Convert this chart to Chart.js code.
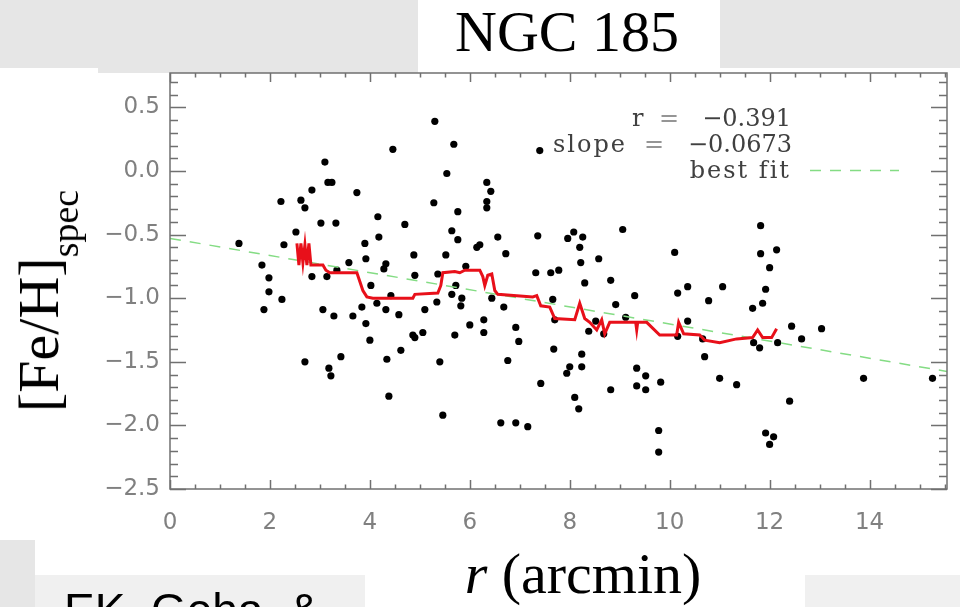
<!DOCTYPE html>
<html>
<head>
<meta charset="utf-8">
<script src="https://cdn.jsdelivr.net/npm/chart.js@4.4.1/dist/chart.umd.min.js"></script>
<style>
  html, body { margin:0; padding:0; background:#ffffff; }
  #wrap { position:relative; width:960px; height:607px; overflow:hidden; background:#ffffff; }
  .blk { position:absolute; }
  #c { position:absolute; left:0; top:0; }
  .txt { position:absolute; white-space:nowrap; line-height:1; }
</style>
</head>
<body>
<div id="wrap">
  <div class="blk" style="left:0;top:0;width:98px;height:68px;background:#e6e6e6"></div>
  <div class="blk" style="left:98px;top:0;width:320px;height:73px;background:#e6e6e6"></div>
  <div class="blk" style="left:720px;top:0;width:240px;height:68px;background:#e6e6e6"></div>
  <div class="blk" style="left:0;top:540px;width:35px;height:67px;background:#e6e6e6"></div>
  <div class="blk" style="left:35px;top:575px;width:330px;height:32px;background:#f0f0f0"></div>
  <div class="blk" style="left:805px;top:575px;width:155px;height:32px;background:#f0f0f0"></div>
  <canvas id="c" width="960" height="607"></canvas>
  <div class="txt" style="left:567px;top:3px;transform:translateX(-50%);font:58px 'Liberation Serif',serif;line-height:58px;color:#000">NGC 185</div>
  <div class="txt" style="left:583px;top:545px;transform:translateX(-50%);font:58px 'Liberation Serif',serif;line-height:58px;color:#000"><i>r</i> (arcmin)</div>
  <div class="txt" style="left:42px;top:301px;transform:translate(-50%,-50%) rotate(-90deg);font:58px 'Liberation Serif',serif;line-height:58px;color:#000">[Fe/H]<span style="font-size:38px;position:relative;top:20px">spec</span></div>
  <div class="txt" style="left:64px;top:587px;font:46px 'Liberation Sans',Arial,sans-serif;line-height:46px;color:#000">EK, Geha, &amp;</div>
</div>
<script>
// ---- data ----
const starR = [1.38,1.84,1.88,1.98,1.98,2.22,2.24,2.28,2.52,2.62,2.70,2.70,2.84,2.84,3.02,3.06,3.10,3.14,3.16,3.24,3.18,3.22,3.28,3.32,3.34,3.42,3.58,3.66,3.74,3.84,3.90,3.92,3.92,4.00,4.02,4.14,4.16,4.18,4.28,4.32,4.32,4.34,4.38,4.42,4.46,4.58,4.62,4.70,4.86,4.90,4.88,4.90,5.06,5.10,5.28,5.30,5.34,5.36,5.40,5.46,5.52,5.54,5.64,5.64,5.68,5.70,5.72,5.76,5.76,5.82,5.84,5.92,6.00,6.14,6.20,6.28,6.28,6.34,6.42,6.34,6.34,6.44,6.56,6.62,6.68,6.72,6.76,6.92,6.92,6.98,7.16,7.32,7.36,7.40,7.42,7.62,7.66,7.68,7.70,7.78,7.94,8.00,7.96,8.08,8.26,8.20,8.22,8.24,8.24,8.30,8.10,8.18,8.38,8.52,8.58,8.68,8.82,8.82,8.92,9.06,9.12,9.30,9.34,9.34,9.52,9.52,9.78,9.78,9.82,10.10,10.16,10.16,10.36,10.36,10.66,10.70,10.78,11.00,11.06,11.34,11.66,11.68,11.80,11.82,11.82,11.86,11.92,11.92,12.00,12.00,12.08,12.14,12.16,12.40,12.44,12.64,13.04,13.88,15.26];
const starFeH = [-0.57,-0.74,-1.09,-0.84,-0.95,-0.24,-1.01,-0.58,-0.48,-0.23,-0.29,-1.50,-0.15,-0.83,-0.41,-1.09,0.07,-0.83,-0.09,-0.09,-1.55,-1.61,-1.14,-0.41,-0.78,-1.46,-0.72,-1.14,-0.17,-1.07,-0.57,-0.69,-1.20,-1.33,-0.90,-1.04,-0.36,-0.52,-0.77,-0.73,-1.09,-1.48,-1.77,-0.98,0.17,-1.13,-1.41,-0.42,-1.29,-1.31,-0.66,-0.82,-1.27,-1.09,-0.25,0.39,-1.03,-0.81,-1.50,-1.92,-0.66,-0.02,-0.47,-0.97,0.21,-1.29,-0.90,-0.32,-0.54,-1.06,-1.00,-0.75,-1.21,-0.60,-0.58,-1.17,-1.27,-0.09,-0.16,-0.24,-0.29,-1.00,-0.52,-1.98,-1.07,-0.65,-1.49,-1.23,-1.98,-1.34,-2.01,-0.80,-0.51,0.16,-1.67,-0.80,-1.01,-1.40,-1.17,-0.78,-1.59,-1.54,-0.53,-0.48,-0.52,-0.60,-0.72,-1.44,-1.54,-0.88,-1.78,-1.87,-1.26,-1.18,-0.69,-1.28,-0.86,-1.72,-1.05,-0.46,-1.15,-0.98,-1.55,-1.69,-1.61,-1.72,-2.04,-2.21,-1.66,-0.64,-0.96,-1.30,-0.91,-1.18,-1.32,-1.46,-1.02,-1.63,-0.91,-1.68,-1.08,-1.35,-1.39,-0.43,-0.65,-1.04,-0.93,-2.06,-0.76,-2.15,-2.09,-0.62,-1.35,-1.81,-1.22,-1.32,-1.24,-1.63,-1.63];
const medianR = [2.54,2.58,2.62,2.66,2.70,2.74,2.78,2.82,3.06,3.12,3.20,3.74,3.86,3.94,4.06,4.86,4.90,5.36,5.42,5.46,5.70,5.80,5.90,6.20,6.26,6.30,6.36,6.44,6.50,6.56,7.26,7.34,7.42,7.60,7.70,8.10,8.20,8.30,8.40,8.54,8.64,8.70,8.80,9.32,9.34,9.36,9.54,9.80,10.14,10.18,10.28,10.60,10.70,11.00,11.34,11.66,11.76,11.86,12.04,12.14];
const medianFeH = [-0.57,-0.74,-0.57,-0.72,-0.58,-0.74,-0.57,-0.74,-0.74,-0.78,-0.80,-0.80,-0.94,-0.99,-1.00,-1.00,-0.97,-0.96,-0.90,-0.80,-0.79,-0.80,-0.78,-0.78,-0.83,-0.90,-0.82,-0.81,-0.94,-0.97,-0.99,-0.98,-1.06,-1.07,-1.16,-1.17,-1.04,-1.16,-1.19,-1.25,-1.17,-1.28,-1.19,-1.19,-1.25,-1.19,-1.19,-1.29,-1.29,-1.19,-1.28,-1.29,-1.33,-1.35,-1.32,-1.31,-1.25,-1.31,-1.31,-1.24];
const fitR = [0, 15.55];
const fitFeH = [-0.53, -1.576];
const xTickValues = [0, 2, 4, 6, 8, 10, 12, 14];
const yTickValues = [-2.5, -2.0, -1.5, -1.0, -0.5, 0.0, 0.5];
const statLabels = ['r', '=', '\u22120.391', 'slope', '=', '\u22120.0673', 'best fit'];

const GREEN = '#84dc84', RED = '#e8101a', AXIS = '#707070';

const frameTicks = {
  id: 'frameTicks',
  afterDatasetsDraw(chart) {
    const {ctx, chartArea: a, scales: {x, y}} = chart;
    ctx.save();
    ctx.strokeStyle = AXIS;
    ctx.lineWidth = 1.5;
    ctx.strokeRect(a.left, a.top, a.right - a.left, a.bottom - a.top);
    ctx.beginPath();
    for (let i = 0; i <= 31; i++) {
      const v = i * 0.5;
      const major = i % 4 === 0;
      const len = major ? 9 : 4.5;
      const px = Math.round(x.getPixelForValue(v)) + 0.5;
      ctx.moveTo(px, a.bottom); ctx.lineTo(px, a.bottom - len);
      ctx.moveTo(px, a.top); ctx.lineTo(px, a.top + len);
    }
    for (let i = -25; i <= 7; i++) {
      const v = i / 10;
      const major = i % 5 === 0;
      const len = major ? 16 : 8;
      const py = Math.round(y.getPixelForValue(v)) + 0.5;
      ctx.moveTo(a.left, py); ctx.lineTo(a.left + len, py);
      ctx.moveTo(a.right, py); ctx.lineTo(a.right - len, py);
    }
    ctx.stroke();
    ctx.restore();
  }
};

const statsBox = {
  id: 'statsBox',
  afterDatasetsDraw(chart) {
    const {ctx} = chart;
    ctx.save();
    ctx.font = "24px 'DejaVu Serif', serif";
    ctx.textBaseline = 'alphabetic';
    const dark = '#404040', light = '#959595';
    const put = (t, x, y, align, col, sp) => {
      ctx.letterSpacing = sp;
      ctx.textAlign = align; ctx.fillStyle = col; ctx.fillText(t, x, y);
    };
    put(statLabels[0], 632, 126, 'left', dark, '0px');
    put(statLabels[1], 669, 126, 'center', light, '0px');
    put(statLabels[2], 791, 126, 'right', dark, '0px');
    put(statLabels[3], 553, 152, 'left', dark, '2px');
    put(statLabels[4], 654, 152, 'center', light, '0px');
    put(statLabels[5], 792, 152, 'right', dark, '0px');
    put(statLabels[6], 791, 178, 'right', dark, '2px');
    ctx.letterSpacing = '0px';
    ctx.strokeStyle = GREEN; ctx.lineWidth = 1.5; ctx.setLineDash([11, 9]);
    ctx.beginPath(); ctx.moveTo(810, 170.5); ctx.lineTo(899, 170.5); ctx.stroke();
    ctx.restore();
  }
};

const fmtY = v => (v < 0 ? '\u2212' : '') + Math.abs(v).toFixed(1);
const tickFont = { family: "'DejaVu Sans', sans-serif", size: 23 };

new Chart(document.getElementById('c'), {
  data: {
    datasets: [
      { type: 'line', label: 'running median', order: 0,
        data: medianR.map((r, i) => ({x: r, y: medianFeH[i]})),
        borderColor: RED, borderWidth: 3, pointRadius: 0, tension: 0, fill: false },
      { type: 'line', label: 'best fit', order: 1,
        data: fitR.map((r, i) => ({x: r, y: fitFeH[i]})),
        borderColor: GREEN, borderWidth: 1.5, borderDash: [11, 9], pointRadius: 0, fill: false },
      { type: 'scatter', label: 'stars', order: 2,
        data: starR.map((r, i) => ({x: r, y: starFeH[i]})),
        backgroundColor: '#000', borderWidth: 0, pointRadius: 3.6 }
    ]
  },
  options: {
    responsive: false,
    animation: false,
    events: [],
    layout: { padding: { top: 73, right: 13, left: 0, bottom: 0 } },
    plugins: { legend: { display: false }, tooltip: { enabled: false }, title: { display: false } },
    scales: {
      x: {
        type: 'linear', min: 0, max: 15.55,
        grid: { display: false, drawTicks: false },
        border: { display: false },
        afterFit: s => { s.height = 118; },
        afterBuildTicks: s => { s.ticks = xTickValues.map(v => ({ value: v })); },
        ticks: { padding: 20, color: '#808080', font: tickFont, maxRotation: 0, autoSkip: false,
                 callback: v => String(v) }
      },
      y: {
        type: 'linear', min: -2.5, max: 0.77,
        grid: { display: false, drawTicks: false },
        border: { display: false },
        afterFit: s => { s.width = 170; },
        afterBuildTicks: s => { s.ticks = yTickValues.map(v => ({ value: v })); },
        ticks: { padding: 10, color: '#808080', font: tickFont, autoSkip: false,
                 callback: v => fmtY(v) }
      }
    }
  },
  plugins: [frameTicks, statsBox]
});
</script>
</body>
</html>
